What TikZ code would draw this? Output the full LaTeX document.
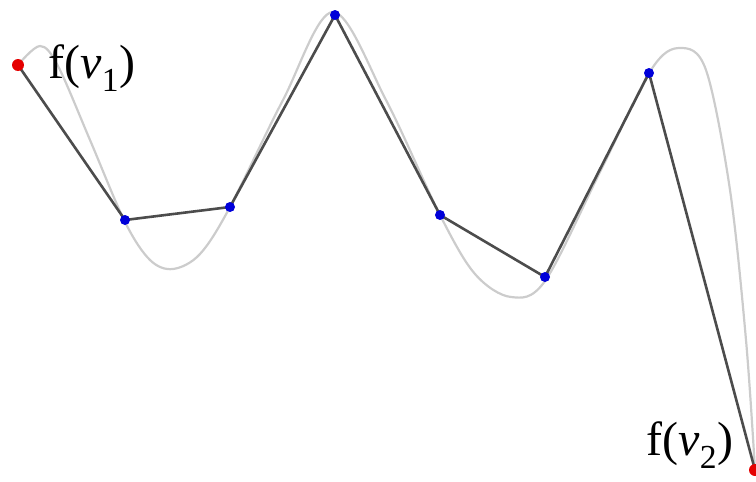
\documentclass[tikz,border=0pt]{standalone}
\usepackage{fontspec}
\setmainfont{Liberation Serif}
\begin{document}
\begin{tikzpicture}[x=1pt,y=-1pt,
  poly/.style={draw=black!70,line width=2.6pt,line join=round},
  fcurve/.style={draw=black!20,line width=2.2pt},
  bdot/.style={circle,fill=blue!85!black,inner sep=0pt,minimum size=10pt},
  rdot/.style={circle,fill=red!90!black,inner sep=0pt,minimum size=12pt},
  lab/.style={inner sep=0pt,font=\fontsize{48}{52}\selectfont}]
\useasboundingbox (0,0) rectangle (756,482);
\draw[fcurve] plot[smooth,tension=0.55] coordinates {
 (18,65) (40,46) (58,66) (90,140) (125,222) (150,260) (173,269) (200,254)
 (230,207) (283,100) (333,12) (386,100) (440,215) (475,274) (511,297)
 (545,281) (600,172) (651,70) (680,48) (706,70) (730,190) (746,340) (755,470)};
\coordinate (p0) at (18,65);
\coordinate (p1) at (125,220);
\coordinate (p2) at (230,207);
\coordinate (p3) at (335,15);
\coordinate (p4) at (440,215);
\coordinate (p5) at (545,277);
\coordinate (p6) at (649,73);
\coordinate (p7) at (755,470);
\draw[poly] (p0) -- (p1) -- (p2) -- (p3) -- (p4) -- (p5) -- (p6) -- (p7);
\foreach \i in {1,...,6} \node[bdot] (d\i) at (p\i) {};
\node[rdot] (d0) at (p0) {};
\node[rdot] (d7) at (p7) {};
\node[lab] (l1) at (92,68) {f(\textit{v}\textsubscript{1})};
\node[lab] (l2) at (690,445) {f(\textit{v}\textsubscript{2})};
\end{tikzpicture}
\end{document}
